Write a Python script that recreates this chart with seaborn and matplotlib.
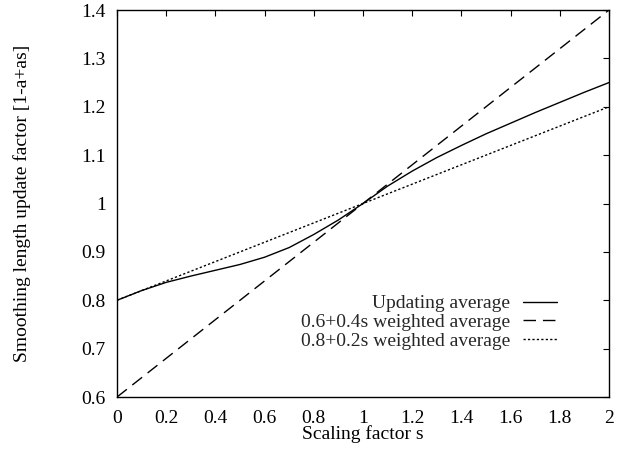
import matplotlib
matplotlib.use("Agg")
import matplotlib.pyplot as plt
import seaborn as sns
import pandas as pd

# Scaling factor s
scale = [0.0, 0.1, 0.2, 0.3, 0.4, 0.5, 0.6, 0.7, 0.8, 0.9, 1.0,
         1.1, 1.2, 1.3, 1.4, 1.5, 1.6, 1.7, 1.8, 1.9, 2.0]
# Smoothing length update factor for the updating average scheme
updating = [0.800, 0.820, 0.837, 0.850, 0.862, 0.874, 0.889, 0.909, 0.936, 0.966, 1.000,
            1.036, 1.067, 1.095, 1.120, 1.144, 1.166, 1.188, 1.209, 1.230, 1.250]
# Fixed weighted averages
weighted_64 = [0.600, 1.400]
weighted_82 = [0.800, 1.200]
weighted_s = [0.0, 2.0]

labels = ["Updating average", "0.6+0.4s weighted average", "0.8+0.2s weighted average"]
xticks = [0, 0.2, 0.4, 0.6, 0.8, 1, 1.2, 1.4, 1.6, 1.8, 2]
xticklabels = ["0", "0.2", "0.4", "0.6", "0.8", "1", "1.2", "1.4", "1.6", "1.8", "2"]
yticks = [0.6, 0.7, 0.8, 0.9, 1.0, 1.1, 1.2, 1.3, 1.4]
yticklabels = ["0.6", "0.7", "0.8", "0.9", "1", "1.1", "1.2", "1.3", "1.4"]

FS = 14

sns.set_theme(style="white")
plt.rcParams["font.family"] = ["Liberation Serif", "DejaVu Serif"]
plt.rcParams["font.size"] = FS

fig = plt.figure(figsize=(6.35, 4.51), dpi=100)
ax = fig.add_axes([0.1843, 0.1197, 0.7747, 0.8581])

df_up = pd.DataFrame({"s": scale, "f": updating})
df_64 = pd.DataFrame({"s": weighted_s, "f": weighted_64})
df_82 = pd.DataFrame({"s": weighted_s, "f": weighted_82})

sns.lineplot(data=df_up, x="s", y="f", ax=ax, color="black", lw=1.0, label=labels[0])
sns.lineplot(data=df_64, x="s", y="f", ax=ax, color="black", lw=1.0, label=labels[1])
sns.lineplot(data=df_82, x="s", y="f", ax=ax, color="black", lw=1.0, label=labels[2])
lines = ax.get_lines()
lines[1].set_dashes([9, 5])
lines[2].set_dashes([1.6, 1.6])

ax.set_xlim(0, 2)
ax.set_ylim(0.6, 1.4)
ax.set_xticks(xticks)
ax.set_xticklabels(xticklabels)
ax.set_yticks(yticks)
ax.set_yticklabels(yticklabels)
ax.tick_params(direction="in", length=4.5, width=0.8, color="black",
               top=True, right=True, labelsize=FS, labelcolor="black")
ax.tick_params(axis="x", pad=9)
ax.tick_params(axis="y", pad=8)
for sp in ax.spines.values():
    sp.set_color("black")
    sp.set_linewidth(1.0)

ax.set_xlabel("Scaling factor s", fontsize=FS, color="black", labelpad=-1)
ax.set_ylabel("Smoothing length update factor [1-a+as]", fontsize=FS, color="black")
ax.yaxis.set_label_coords(-0.175, 0.5)

leg = ax.legend(loc="lower right", bbox_to_anchor=(0.894, 0.1225), frameon=False,
                markerfirst=False, handlelength=1.75, handletextpad=0.65,
                labelspacing=0.05, borderaxespad=0, borderpad=0, fontsize=FS)

fig.savefig("out.png", dpi=100)
